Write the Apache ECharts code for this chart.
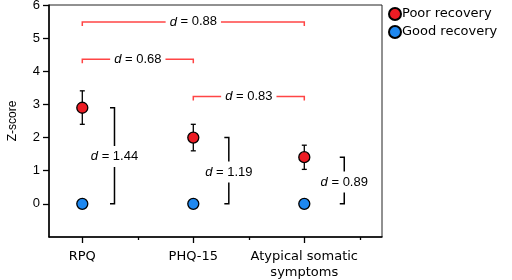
<!DOCTYPE html>
<html>
<head>
<meta charset="utf-8">
<script src="https://cdn.jsdelivr.net/npm/echarts@6/dist/echarts.min.js"></script>
<style>
  html, body { margin: 0; padding: 0; background: #fff; }
  #chart { width: 512px; height: 280px; }
</style>
</head>
<body>
<div id="chart"></div>
<script>
// measures, placed at x = 1, 2, 3
const categories = ['RPQ', 'PHQ-15', 'Atypical somatic\nsymptoms'];
const poorMean = [2.9, 2.0, 1.41];
const poorLow = [2.4, 1.6, 1.04];
const poorHigh = [3.41, 2.4, 1.77];
const goodMean = [0, 0, 0];
const goodLow = [-0.04, -0.04, -0.04];
const goodHigh = [0.04, 0.04, 0.04];
const yTicks = [0, 1, 2, 3, 4, 5, 6];
const majorTicks = [1, 2, 3];
const minorTicks = [1.5, 2.5, 3.5];

// between-measure effect sizes: [x from, x to, y level]
const redBrackets = [[1, 3, 5.49], [1, 2, 4.36], [2, 3, 3.24]];
const redLabels = ['0.88', '0.68', '0.83'];
// within-measure effect sizes: [x, y bottom, y top, label y]
const blackBrackets = [[1.29, 0, 2.9, 1.43], [2.32, 0, 2.0, 0.96], [3.36, 0, 1.41, 0.66]];
const blackLabels = ['1.44', '1.19', '0.89'];

const RED = '#ec1c24';
const BLUE = '#1e88f0';
const BRACKET_RED = '#ff4545';
const NUM_FONT = '"Liberation Sans", Arial, sans-serif';
const TXT_FONT = '"DejaVu Sans", sans-serif';

const chart = echarts.init(document.getElementById('chart'));

const dLabel = (v) => ({
  text: '{i|d} = ' + v,
  rich: { i: { fontStyle: 'italic', fontSize: 13, fontFamily: NUM_FONT, fill: '#000' } },
  fontSize: 13,
  fontFamily: NUM_FONT,
  fill: '#000',
  align: 'center',
  verticalAlign: 'middle',
  backgroundColor: '#fff'
});

function errorBars(low, high) {
  return {
    type: 'custom',
    silent: true,
    z: 2,
    data: low.map((l, i) => [i + 1, l, high[i]]),
    encode: { x: 0, y: [1, 2] },
    renderItem: (params, api) => {
      const lo = api.coord([api.value(0), api.value(1)]);
      const hi = api.coord([api.value(0), api.value(2)]);
      const w = 2.5;
      return {
        type: 'group',
        children: [
          { type: 'line', shape: { x1: lo[0], y1: lo[1], x2: hi[0], y2: hi[1] }, style: { stroke: '#000', lineWidth: 1.3 } },
          { type: 'line', shape: { x1: lo[0] - w, y1: lo[1], x2: lo[0] + w, y2: lo[1] }, style: { stroke: '#000', lineWidth: 1.3 } },
          { type: 'line', shape: { x1: hi[0] - w, y1: hi[1], x2: hi[0] + w, y2: hi[1] }, style: { stroke: '#000', lineWidth: 1.3 } }
        ]
      };
    }
  };
}

const option = {
  animation: false,
  backgroundColor: '#fff',
  grid: {
    left: 49, top: 5, right: 130, bottom: 43,
    outerBoundsMode: 'none',
    containLabel: false,
    show: true, borderColor: '#222', borderWidth: 1
  },
  legend: {
    orient: 'vertical',
    left: 383,
    top: 2,
    itemWidth: 12,
    itemHeight: 12,
    itemGap: 4,
    textStyle: { fontFamily: TXT_FONT, fontSize: 13, color: '#000', padding: [0, 0, 0, -4] },
    data: ['Poor recovery', 'Good recovery']
  },
  xAxis: [
    {
      type: 'value', min: 0.7, max: 3.7,
      splitLine: { show: false },
      axisLine: { show: true, onZero: false, lineStyle: { color: '#000', width: 1.5 } },
      axisTick: { show: true, customValues: majorTicks, length: 6, lineStyle: { color: '#000', width: 1.3 } },
      axisLabel: {
        customValues: majorTicks,
        margin: 12,
        fontFamily: TXT_FONT, fontSize: 13, color: '#000', lineHeight: 16,
        formatter: (v) => categories[Math.round(v) - 1] || ''
      }
    },
    {
      type: 'value', min: 0.7, max: 3.7, position: 'bottom',
      splitLine: { show: false },
      axisLine: { show: false, onZero: false },
      axisTick: { show: true, customValues: minorTicks, length: 3, lineStyle: { color: '#000', width: 1.3 } },
      axisLabel: { show: false }
    }
  ],
  yAxis: {
    type: 'value', min: -1, max: 6,
    name: 'Z-score',
    nameLocation: 'middle',
    nameRotate: 90,
    nameGap: 30,
    nameTextStyle: { fontFamily: NUM_FONT, fontSize: 12, color: '#000' },
    splitLine: { show: false },
    axisLine: { show: true, onZero: false, lineStyle: { color: '#000', width: 1.5 } },
    axisTick: { show: true, customValues: yTicks, length: 6, lineStyle: { color: '#000', width: 1.3 } },
    axisLabel: { customValues: yTicks, margin: 9, fontFamily: NUM_FONT, fontSize: 13, color: '#000' }
  },
  series: [
    errorBars(poorLow, poorHigh),
    errorBars(goodLow, goodHigh),
    {
      name: 'Poor recovery',
      type: 'scatter',
      z: 5,
      symbolSize: 11,
      itemStyle: { color: RED, borderColor: '#000', borderWidth: 1.3, opacity: 1 },
      data: poorMean.map((v, i) => [i + 1, v])
    },
    {
      name: 'Good recovery',
      type: 'scatter',
      z: 5,
      symbolSize: 11,
      itemStyle: { color: BLUE, borderColor: '#000', borderWidth: 1.3, opacity: 1 },
      data: goodMean.map((v, i) => [i + 1, v])
    },
    {
      type: 'custom',
      silent: true,
      z: 3,
      data: redBrackets,
      encode: { x: [0, 1], y: 2 },
      renderItem: (params, api) => {
        const a = api.coord([api.value(0), api.value(2)]);
        const b = api.coord([api.value(1), api.value(2)]);
        const drop = 4;
        return {
          type: 'group',
          children: [
            {
              type: 'polyline',
              shape: { points: [[a[0], a[1] + drop], [a[0], a[1]], [b[0], b[1]], [b[0], b[1] + drop]] },
              style: { stroke: BRACKET_RED, lineWidth: 1.5, fill: null }
            },
            {
              type: 'text',
              style: Object.assign(dLabel(redLabels[params.dataIndex]), {
                x: (a[0] + b[0]) / 2, y: a[1], padding: [0, 4]
              })
            }
          ]
        };
      }
    },
    {
      type: 'custom',
      silent: true,
      z: 3,
      data: blackBrackets,
      encode: { x: 0, y: [1, 2] },
      renderItem: (params, api) => {
        const lo = api.coord([api.value(0), api.value(1)]);
        const hi = api.coord([api.value(0), api.value(2)]);
        const mid = api.coord([api.value(0), api.value(3)]);
        const tick = 4.5;
        return {
          type: 'group',
          children: [
            {
              type: 'polyline',
              shape: { points: [[lo[0] - tick, lo[1]], [lo[0], lo[1]], [hi[0], hi[1]], [hi[0] - tick, hi[1]]] },
              style: { stroke: '#000', lineWidth: 1.5, fill: null }
            },
            {
              type: 'text',
              style: Object.assign(dLabel(blackLabels[params.dataIndex]), {
                x: mid[0], y: mid[1], padding: [4, 2]
              })
            }
          ]
        };
      }
    }
  ]
};

chart.setOption(option);
</script>
</body>
</html>
